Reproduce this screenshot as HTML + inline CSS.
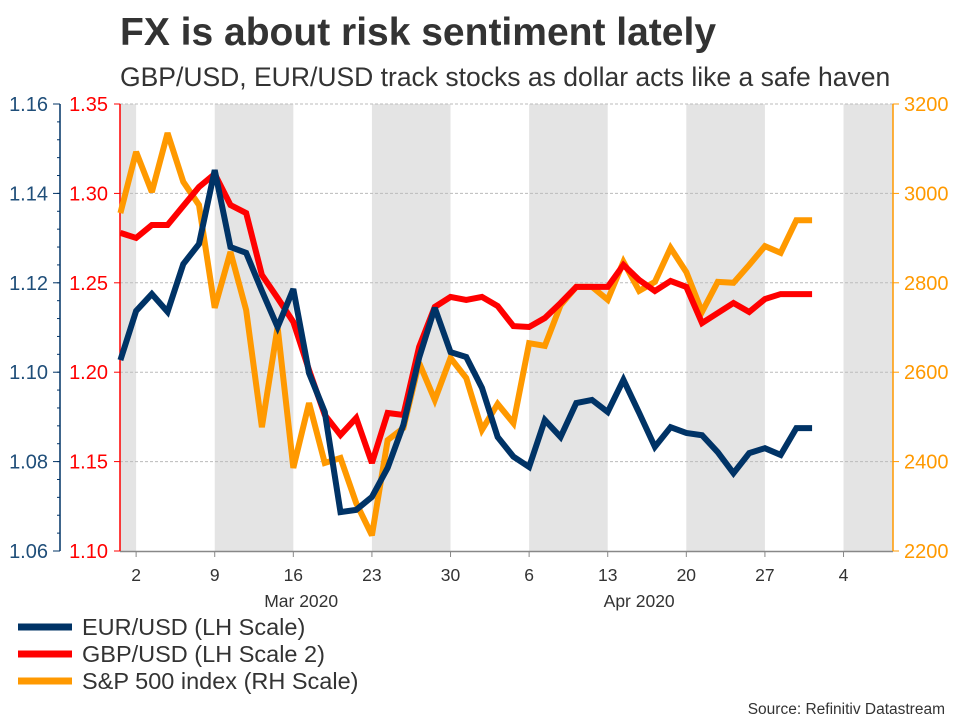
<!DOCTYPE html>
<html><head><meta charset="utf-8"><style>
body{margin:0;background:#fff;font-family:"Liberation Sans",Arial,sans-serif}
svg text{font-family:"Liberation Sans",Arial,sans-serif}
</style></head><body>
<svg id="chart" width="960" height="720" xmlns="http://www.w3.org/2000/svg">
<text x="120" y="45" font-size="39" font-weight="bold" fill="#333">FX is about risk sentiment lately</text>
<text x="120" y="86" font-size="26.5" fill="#333">GBP/USD, EUR/USD track stocks as dollar acts like a safe haven</text>
<g id="bands"></g><g id="grid"></g><g id="axes"></g><g id="series"></g>
<g>
<line x1="18" y1="627" x2="72" y2="627" stroke="#003366" stroke-width="7"/>
<text x="82" y="635" font-size="23.5" fill="#333">EUR/USD (LH Scale)</text>
<line x1="18" y1="654" x2="72" y2="654" stroke="#ff0000" stroke-width="7"/>
<text x="82" y="662" font-size="23.5" fill="#333">GBP/USD (LH Scale 2)</text>
<line x1="18" y1="681" x2="72" y2="681" stroke="#ff9900" stroke-width="7"/>
<text x="82" y="689" font-size="23.5" fill="#333">S&amp;P 500 index (RH Scale)</text>
</g>
<text x="945" y="714" font-size="15.5" fill="#333" text-anchor="end">Source: Refinitiv Datastream</text>
</svg>
<script>
const eurusd=[1.1027,1.1137,1.1175,1.1135,1.1242,1.1287,1.1452,1.128,1.1267,1.1182,1.1101,1.1186,1.0998,1.0911,1.0687,1.0692,1.0721,1.0786,1.0882,1.1032,1.1144,1.1045,1.1034,1.0965,1.0855,1.0811,1.0788,1.0893,1.0855,1.0931,1.0938,1.0911,1.0983,1.0909,1.0833,1.0877,1.0864,1.0859,1.0821,1.0774,1.0819,1.0830,1.0815,1.0875,1.0875];
const gbpusd=[1.2779,1.2751,1.2823,1.2823,1.2930,1.3036,1.3109,1.2935,1.2890,1.2544,1.2415,1.2281,1.2012,1.1761,1.1649,1.1744,1.1492,1.1772,1.1761,1.2141,1.2365,1.2421,1.2404,1.2421,1.2370,1.2258,1.2253,1.2303,1.2387,1.2477,1.2477,1.2477,1.2600,1.2516,1.2454,1.2510,1.2477,1.2275,1.2331,1.2387,1.2337,1.2409,1.2437,1.2437,1.2437];
const sp500=[2956,3093,3003,3135,3026,2974,2744,2869,2739,2477,2701,2386,2531,2397,2408,2307,2235,2448,2475,2621,2538,2632,2587,2471,2529,2486,2665,2659,2750,2791,2791,2762,2847,2782,2802,2878,2824,2735,2802,2800,2840,2882,2867,2940,2940];
const xTickLabels=["2","9","16","23","30","6","13","20","27","4"];
const eurTicks=[1.06,1.08,1.10,1.12,1.14,1.16];
const gbpTicks=[1.10,1.15,1.20,1.25,1.30,1.35];
const spTicks=[2200,2400,2600,2800,3000,3200];
const monthLabels=["Mar 2020","Apr 2020"];

const NS="http://www.w3.org/2000/svg";
const L=120,R=893,T=104,B=551,X0=120.4,DX=15.72;
const xI=i=>X0+i*DX;
const yE=v=>B-(v-1.06)/0.10*(B-T);
const yG=v=>B-(v-1.10)/0.25*(B-T);
const yS=v=>B-(v-2200)/1000*(B-T);
function mk(parent,tag,attrs){const e=document.createElementNS(NS,tag);for(const k in attrs)e.setAttribute(k,attrs[k]);document.getElementById(parent).appendChild(e);return e;}

let b=mk('bands','rect',{x:L,y:T,width:xI(1)-L,height:B-T,fill:'#e4e4e4'});


for(let w=1;w<10;w+=2){const x1=xI(1+w*5),x2=Math.min(R,xI(1+(w+1)*5));
 const r=mk('bands','rect',{x:x1,y:T,width:x2-x1,height:B-T,fill:'#e4e4e4'});
 
 }
gbpTicks.forEach(v=>{if(v===1.10)return;const g=mk('grid','line',{x1:L,x2:R,y1:yG(v),y2:yG(v),stroke:'#bbb','stroke-dasharray':'3,2','stroke-width':1});
 
 });
mk('axes','line',{x1:L,x2:R,y1:B+0.5,y2:B+0.5,stroke:'#888','stroke-width':1.5});
xTickLabels.forEach((t,k)=>{const x=xI(1+k*5);
 mk('axes','line',{x1:x,x2:x,y1:B,y2:B+6,stroke:'#888'});
 const tx=mk('axes','text',{x:x,y:581,'font-size':17.5,fill:'#333','text-anchor':'middle'});tx.textContent=t;
 
 });
monthLabels.forEach((m,k)=>{const tx=mk('axes','text',{x:k?xI(33):xI(11.5),y:607,'font-size':17.5,fill:'#333','text-anchor':'middle'});tx.textContent=m;
 
 });
mk('axes','line',{x1:60,x2:60,y1:T,y2:B,stroke:'#003366','stroke-width':1.5});
for(let v=1.06;v<=1.1601;v+=0.004){const y=yE(v);mk('axes','line',{x1:57,x2:60,y1:y,y2:y,stroke:'#003366'});}
eurTicks.forEach(v=>{const y=yE(v);mk('axes','line',{x1:53,x2:60,y1:y,y2:y,stroke:'#003366'});
 const tx=mk('axes','text',{x:48,y:y+7,'font-size':20,fill:'#1f4e79','text-anchor':'end'});tx.textContent=v.toFixed(2);
 
 });
mk('axes','line',{x1:L,x2:L,y1:T,y2:B,stroke:'#ff0000','stroke-width':1.5});
gbpTicks.forEach(v=>{const y=yG(v);mk('axes','line',{x1:114,x2:L,y1:y,y2:y,stroke:'#ff0000'});
 const tx=mk('axes','text',{x:108,y:y+7,'font-size':20,fill:'#ff0000','text-anchor':'end'});tx.textContent=v.toFixed(2);
 
 });
mk('axes','line',{x1:R,x2:R,y1:T,y2:B,stroke:'#ff9900','stroke-width':1.5});
spTicks.forEach(v=>{const y=yS(v);mk('axes','line',{x1:R,x2:R+6,y1:y,y2:y,stroke:'#ff9900'});
 const tx=mk('axes','text',{x:904,y:y+7,'font-size':20,fill:'#ff9900'});tx.textContent=v;
 
 });
function line(data,yf,color,name){const p=mk('series','polyline',{points:data.map((v,i)=>xI(i)+','+yf(v)).join(' '),fill:'none',stroke:color,'stroke-width':6,'stroke-linejoin':'miter','stroke-miterlimit':3});
 
 }
line(sp500,yS,'#ff9900','sp500-line');
line(gbpusd,yG,'#ff0000','gbpusd-line');
line(eurusd,yE,'#003366','eurusd-line');
</script>
</body></html>
